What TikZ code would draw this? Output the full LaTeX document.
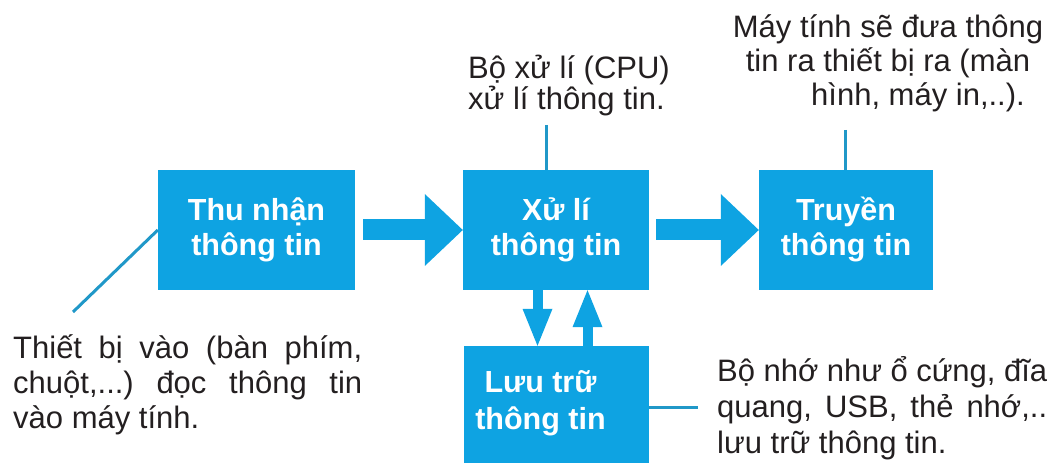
\documentclass[tikz,border=0pt]{standalone}
\usepackage{fontspec}
\setmainfont{Liberation Sans}
\usetikzlibrary{calc, arrows.meta}

\definecolor{boxBlue}{RGB}{14,163,226}
\definecolor{leadBlue}{RGB}{32,152,200}
\definecolor{noteGray}{RGB}{35,31,32}

\begin{document}
\frenchspacing
\begin{tikzpicture}[x=1pt, y=1pt,
    infoBox/.style={fill=boxBlue, text=white, inner sep=0pt, minimum height=120pt,
      align=center, font=\fontsize{30.5}{35}\bfseries\selectfont},
    boxText/.style={text=white, inner sep=0pt, align=center,
      font=\fontsize{30.5}{37}\bfseries\selectfont},
    bigArrow/.style={boxBlue, line width=21pt,
      -{Triangle[length=38pt, width=72pt, line width=0pt]}},
    smallArrow/.style={boxBlue, line width=10pt,
      -{Triangle[length=37pt, width=30pt, line width=0pt]}},
    leader/.style={leadBlue, line width=3pt},
    note/.style={text=noteGray, inner sep=0pt}]

  % page
  \useasboundingbox (0,0) rectangle (1053,463);
  \clip (0,0) rectangle (1053,463);

  % boxes
  \node[infoBox, minimum width=197pt] (thuNhan) at (256.5,233) {Thu nhận\\thông tin};
  \node[infoBox, minimum width=186pt] (xuLi)    at (556,233)   {Xử lí\\thông tin};
  \node[infoBox, minimum width=174pt] (truyen)  at (846,233)   {Truyền\\thông tin};
  \node[infoBox, minimum width=185pt] (luuTru)  at (556.5,57)  {};
  \node[boxText] (luuTruText) at ($(luuTru.center)+(-16,3)$) {Lưu trữ\\thông tin};

  % flow
  \draw[bigArrow] ([xshift=8pt]thuNhan.east) -- (xuLi.west);
  \draw[bigArrow] ([xshift=7pt]xuLi.east) -- (truyen.west);
  \draw[smallArrow] ([xshift=-18.5pt]xuLi.south) -- ([xshift=-19pt]luuTru.north);
  \draw[smallArrow] ([xshift=31pt]luuTru.north) -- ([xshift=31.5pt]xuLi.south);

  % notes
  \node[note, anchor=base west, text width=349pt, align=justify,
        font=\fontsize{31}{35}\selectfont] (thietBi) at (13,104)
    {Thiết bị vào (bàn phím,\linebreak chuột,...) đọc thông tin\linebreak vào máy tính.};
  \node[note, anchor=base west, align=left,
        font=\fontsize{31}{31}\selectfont] (cpuNote) at (468,353)
    {Bộ xử lí (CPU)\\xử lí thông tin.};
  \node[note, anchor=base, align=center,
        font=\fontsize{31}{34}\selectfont] (mayTinh) at (888,357)
    {Máy tính sẽ đưa thông\\tin ra thiết bị ra (màn\\\hspace*{60pt}hình, máy in,..).};
  \node[note, anchor=base west, text width=330pt, align=justify,
        font=\fontsize{31}{36}\selectfont] (boNho) at (717,81)
    {Bộ nhớ như ổ cứng, đĩa\linebreak quang, USB, thẻ nhớ,..\linebreak lưu trữ thông tin.};

  % leader lines
  \coordinate (thietBiEnd) at (73,151);
  \coordinate (cpuEnd)     at (546,338);
  \coordinate (mayTinhEnd) at (845,333);
  \coordinate (boNhoEnd)   at (698,55);
  \draw[leader] (thuNhan.west) -- (thietBiEnd);
  \draw[leader] (cpuEnd) -- (cpuEnd |- xuLi.north);
  \draw[leader] (mayTinhEnd) -- (mayTinhEnd |- truyen.north);
  \draw[leader] (luuTru.east |- boNhoEnd) -- (boNhoEnd);
\end{tikzpicture}
\end{document}
